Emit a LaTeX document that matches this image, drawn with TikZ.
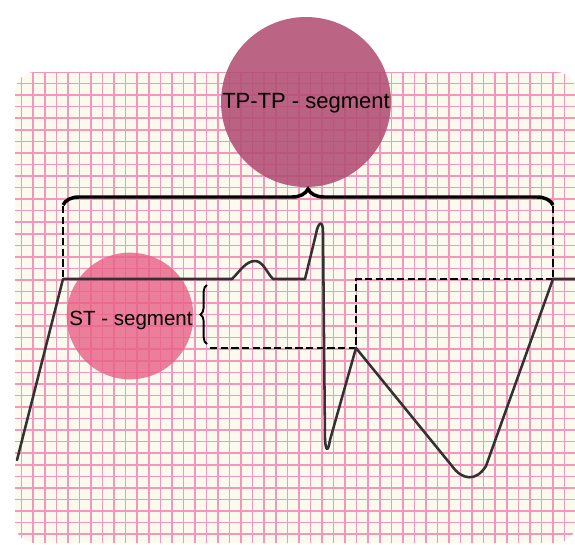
\documentclass[tikz,border=0pt]{standalone}
\usepackage{fontspec}
\setmainfont{Liberation Sans}
\usetikzlibrary{decorations.pathreplacing}
\definecolor{paper}{RGB}{250,250,238}
\definecolor{gridpink}{RGB}{246,150,186}
\definecolor{bigc}{RGB}{178,78,115}
\definecolor{smallc}{RGB}{232,95,135}
\definecolor{ecg}{RGB}{50,50,50}
\tikzset{
  gridline/.style={gridpink, line width=1.15pt},
  ecgline/.style={ecg, line width=1.9pt, line join=round, line cap=round},
  dashline/.style={black, line width=1.7pt, dash pattern=on 5.5pt off 2.5pt},
  bigbrace/.style={black, line width=2.6pt, decorate, decoration={brace, amplitude=12pt}},
  smallbrace/.style={black, line width=1.4pt, decorate, decoration={brace, amplitude=5pt}},
  lbl/.style={inner sep=0pt, text=black}
}
\begin{document}
\begin{tikzpicture}[x=0.75pt,y=-0.75pt]
\useasboundingbox (0,0) rectangle (575,544);
% paper
\fill[paper, rounded corners=15pt] (15,72) rectangle (576,543);
\begin{scope}
  \clip[rounded corners=15pt] (15,72) rectangle (576,543);
  \foreach \i in {-5,...,45} \draw[gridline] ({67.9+11.55*\i},60) -- ++(0,500);
  \foreach \i in {-4,...,40} \draw[gridline] (0,{106.7+11.55*\i}) -- ++(600,0);
\end{scope}
% circles
\fill[bigc, opacity=0.88] (306,102) circle[radius=63.75pt];
\fill[smallc, opacity=0.8] (130,316) circle[radius=47.5pt];
% key points
\coordinate (a0) at (17,460);
\coordinate (a1) at (63,279);
\coordinate (p0) at (232,279);
\coordinate (pp) at (255,261);
\coordinate (p1) at (273,279);
\coordinate (q) at (305,279);
\coordinate (j) at (356,348);
\coordinate (e) at (553,279);
\coordinate (end) at (576,279);
\coordinate (bl) at (63,206);
\coordinate (br) at (553,206);
\coordinate (sl) at (210,348);
\coordinate (jt) at (356,279);
% dashed guides
\draw[dashline] (bl) -- (a1);
\draw[dashline] (br) -- (e);
\draw[dashline] (sl) -- (j) -- (jt) -- (e);
% ECG trace
\draw[ecgline] (a0) -- (a1) -- (p0)
  .. controls (240,271) and (246,261) .. (pp)
  .. controls (263,261) and (267,273) .. (p1) -- (q)
  -- (316,234) .. controls (318,222) and (323,219) .. (323,232)
  -- (325,440) .. controls (326,452) and (328,452) .. (330,440)
  -- (j) -- (452,466) .. controls (462,480) and (476,482) .. (486,466)
  -- (e) -- (end);
% braces
\draw[bigbrace] (63,205) -- (553,205);
\draw[smallbrace] (207,344) -- (207,285);
% labels
\node[lbl] (tp) at (306,103) {\fontsize{16.5}{18}\selectfont TP-TP - segment};
\node[lbl] (st) at (131,320) {\fontsize{15.4}{17}\selectfont ST - segment};
\end{tikzpicture}
\end{document}
